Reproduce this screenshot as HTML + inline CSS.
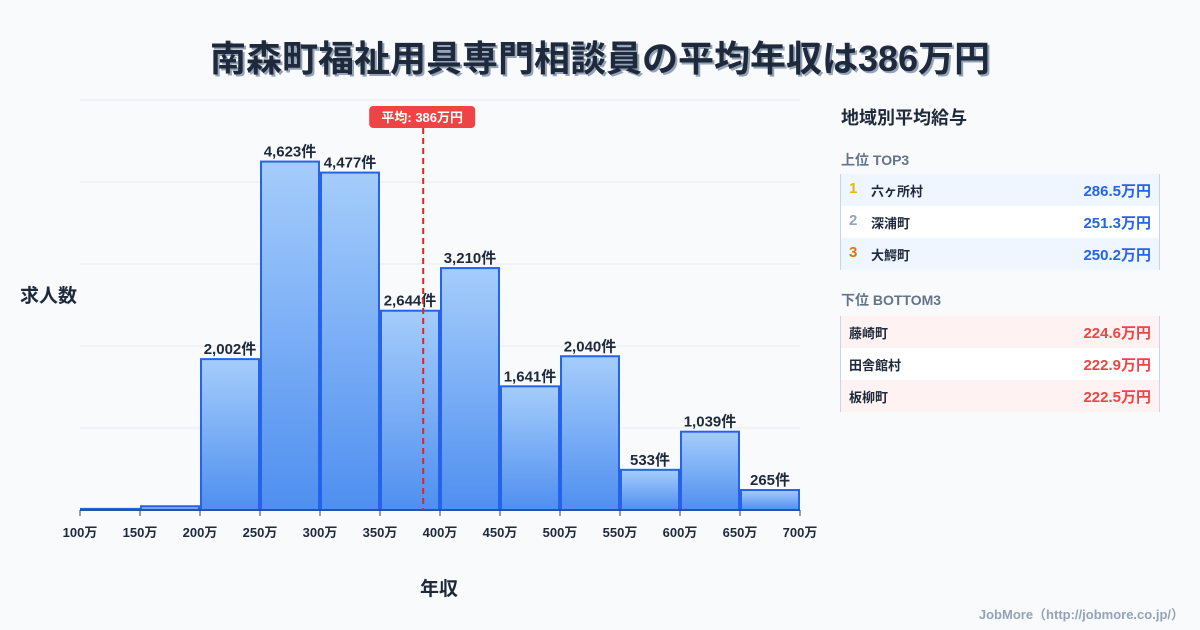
<!DOCTYPE html>
<html><head><meta charset="utf-8"><style>
body{margin:0;width:1200px;height:630px;background:#f8fafc;font-family:"Liberation Sans","Noto Sans CJK JP",sans-serif;position:relative;overflow:hidden;color:#1e293b}
.t{position:absolute;white-space:nowrap}
.row{position:absolute;left:840px;width:320px;height:32px;border-left:1px solid #cbd5e1;border-right:1px solid #cbd5e1;box-sizing:border-box;font-weight:bold}
.row span{position:absolute;top:7px;font-size:13px}
.row span.rk{top:6px;font-size:15px}
</style></head><body>
<div class="t" style="left:0;width:1200px;text-align:center;top:30px;font-size:36px;font-weight:bold;color:#1e293b;text-shadow:2px 2px 0 #94a3b8">南森町福祉用具専門相談員の平均年収は386万円</div>
<svg id="chart" width="1200" height="630" style="position:absolute;left:0;top:0">
<defs><linearGradient id="g" x1="0" y1="0" x2="0" y2="1"><stop offset="0" stop-color="#a5cdfb"/><stop offset="1" stop-color="#4f8ff0"/></linearGradient></defs>
</svg>
<div class="t" style="left:20px;top:281px;font-size:19px;font-weight:bold">求人数</div>
<div class="t" style="left:420px;top:574px;font-size:19px;font-weight:bold">年収</div>
<div class="t" style="left:841px;top:104px;font-size:18px;font-weight:bold">地域別平均給与</div>
<div class="t" style="left:841px;top:150px;font-size:14px;font-weight:bold;color:#64748b">上位 TOP3</div>
<div class="row" style="top:174px;background:#eff6ff"><span class="rk" style="left:8px;color:#eab308">1</span><span style="left:30px">六ヶ所村</span><span style="right:8px;font-size:15px;top:6px;color:#2563eb">286.5万円</span></div>
<div class="row" style="top:206px;background:#fff"><span class="rk" style="left:8px;color:#94a3b8">2</span><span style="left:30px">深浦町</span><span style="right:8px;font-size:15px;top:6px;color:#2563eb">251.3万円</span></div>
<div class="row" style="top:238px;background:#eff6ff"><span class="rk" style="left:8px;color:#d97706">3</span><span style="left:30px">大鰐町</span><span style="right:8px;font-size:15px;top:6px;color:#2563eb">250.2万円</span></div>
<div class="t" style="left:841px;top:290px;font-size:14px;font-weight:bold;color:#64748b">下位 BOTTOM3</div>
<div class="row" style="top:316px;background:#fef2f2"><span style="left:8px">藤崎町</span><span style="right:8px;font-size:15px;top:6px;color:#ef4444">224.6万円</span></div>
<div class="row" style="top:348px;background:#fff"><span style="left:8px">田舎館村</span><span style="right:8px;font-size:15px;top:6px;color:#ef4444">222.9万円</span></div>
<div class="row" style="top:380px;background:#fef2f2"><span style="left:8px">板柳町</span><span style="right:8px;font-size:15px;top:6px;color:#ef4444">222.5万円</span></div>
<div class="t" style="right:16px;top:604px;font-size:13px;font-weight:bold;color:#94a3b8">JobMore（http://jobmore.co.jp/）</div>
<script>
const binStarts=[100,150,200,250,300,350,400,450,500,550,600,650];
const counts=[15,50,2002,4623,4477,2644,3210,1641,2040,533,1039,265];
const tickLabels=[100,150,200,250,300,350,400,450,500,550,600,650,700];
const meanValue=386;
const svg=document.getElementById('chart');
const NS='http://www.w3.org/2000/svg';
const x=v=>80+(v-100)/600*720;
const y=v=>510-v/5440*410;
function mk(t,a){const e=document.createElementNS(NS,t);for(const k in a)e.setAttribute(k,a[k]);svg.appendChild(e);return e;}
for(let i=0;i<6;i++){const g=mk('line',{x1:80,x2:800,y1:100+i*82,y2:100+i*82,stroke:'#e8edf3'});

}
binStarts.forEach((b,i)=>{
const x0=x(b)+1,x1=x(b+50)-1,yt=y(counts[i]);
const r=mk('rect',{x:x0,y:yt,width:x1-x0,height:Math.max(510-yt,1),fill:'url(#g)',stroke:'#2563eb','stroke-width':2});


if(counts[i]>200){const t=mk('text',{x:(x0+x1)/2,y:yt-5,'text-anchor':'middle','font-size':15,'font-weight':'bold',fill:'#1e293b'});
t.textContent=counts[i].toLocaleString('en-US')+'件';

}
});
const ax=mk('line',{x1:80,x2:800,y1:510,y2:510,stroke:'#334155'});


tickLabels.forEach(v=>{
const tk=mk('line',{x1:x(v),x2:x(v),y1:510,y2:516,stroke:'#334155'});


const t=mk('text',{x:x(v),y:537,'text-anchor':'middle','font-size':13,'font-weight':'bold',fill:'#1e293b'});
t.textContent=v+'万';


});
const mx=x(meanValue);
const ml=mk('line',{x1:mx,x2:mx,y1:128,y2:510,stroke:'#dc2626','stroke-width':2,'stroke-dasharray':'6,4'});


const mb=mk('rect',{x:mx-54,y:106,width:106,height:22,rx:4,fill:'#ef4444'});


const mt=mk('text',{x:mx-1,y:122,'text-anchor':'middle','font-size':13,'font-weight':'bold',fill:'#fff'});
mt.textContent='平均: '+meanValue+'万円';


</script>
</body></html>
